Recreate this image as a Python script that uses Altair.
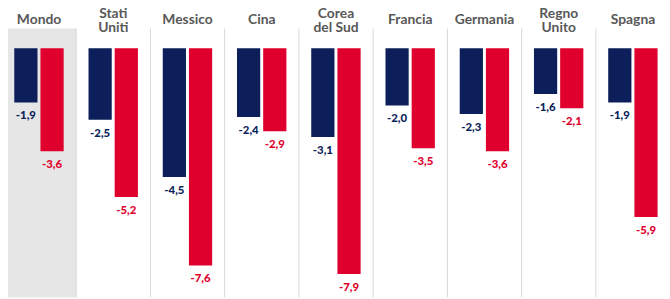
import altair as alt
import pandas as pd

countries = ["Mondo", "Stati\nUniti", "Messico", "Cina", "Corea\ndel Sud",
             "Francia", "Germania", "Regno\nUnito", "Spagna"]
serie_a = [-1.9, -2.5, -4.5, -2.4, -3.1, -2.0, -2.3, -1.6, -1.9]
serie_b = [-3.6, -5.2, -7.6, -2.9, -7.9, -3.5, -3.6, -2.1, -5.9]
series = ["A", "B"]
colors = ["#0c1f5b", "#e0002d"]

COLW = 75.15
offsets = {"A": (12.5, 36.0), "B": (39.0, 62.5)}

rows = []
for i, c in enumerate(countries):
    for s, vals in zip(series, [serie_a, serie_b]):
        v = vals[i]
        o0, o1 = offsets[s]
        rows.append({"paese": c, "serie": s, "valore": v,
                     "etichetta": f"{v:.1f}".replace(".", ","),
                     "x0": i + o0 / COLW, "x1": i + o1 / COLW,
                     "xc": i + (o0 + o1) / 2 / COLW})
df = pd.DataFrame(rows)

cols = pd.DataFrame({"paese": countries, "i": list(range(len(countries)))})
cols["i1"] = cols["i"] + 1
cols["ic"] = cols["i"] + 0.5
cols["righe"] = cols["paese"].str.count("\n") + 1

W, H = 662, 291
c0 = (8 - 1.85) / COLW
c1 = (670 - 1.85) / COLW
xs = alt.Scale(domain=[c0, c1], nice=False, zero=False)
ys = alt.Scale(domain=[-8.711, 1.348], nice=False, zero=False)
col_scale = alt.Scale(domain=series, range=colors)

bg = alt.Chart(cols).transform_filter(alt.datum.i == 0).mark_rect(
    color="#e6e6e6").encode(
    x=alt.X("i:Q", scale=xs, axis=None),
    x2="i1:Q",
    y=alt.value(19), y2=alt.value(H))

seps = alt.Chart(cols).transform_filter(alt.datum.i > 0).mark_rule(
    color="#d6d6d6", strokeWidth=1).encode(
    x=alt.X("i:Q", scale=xs, axis=None),
    y=alt.value(19), y2=alt.value(H))

bars = alt.Chart(df).mark_rect().encode(
    x=alt.X("x0:Q", scale=xs, axis=None),
    x2="x1:Q",
    y=alt.Y("valore:Q", scale=ys, axis=None),
    y2=alt.datum(0),
    color=alt.Color("serie:N", scale=col_scale, legend=None))

labels = alt.Chart(df).mark_text(
    font="Lato", fontWeight=900, fontSize=11.5, baseline="middle",
    align="center", dy=14).encode(
    x=alt.X("xc:Q", scale=xs, axis=None),
    y=alt.Y("valore:Q", scale=ys, axis=None),
    text="etichetta:N",
    color=alt.Color("serie:N", scale=col_scale, legend=None))

title_mark = dict(font="Lato", fontWeight="bold", fontSize=14,
                  baseline="middle", align="center", lineBreak="\n",
                  lineHeight=14, color="#585858")

titles1 = alt.Chart(cols).transform_filter(alt.datum.righe == 1).mark_text(
    **title_mark).encode(
    x=alt.X("ic:Q", scale=xs, axis=None),
    y=alt.value(10.3),
    text="paese:N")

titles2 = alt.Chart(cols).transform_filter(alt.datum.righe == 2).mark_text(
    **title_mark).encode(
    x=alt.X("ic:Q", scale=xs, axis=None),
    y=alt.value(4.6),
    text="paese:N")

chart = alt.layer(bg, seps, bars, labels, titles1, titles2).properties(
    width=W, height=H, padding=0,
    autosize=alt.AutoSizeParams(type="none")
).configure_view(stroke=None)

chart.save("out.html", embed_options={"renderer": "svg", "actions": False})
